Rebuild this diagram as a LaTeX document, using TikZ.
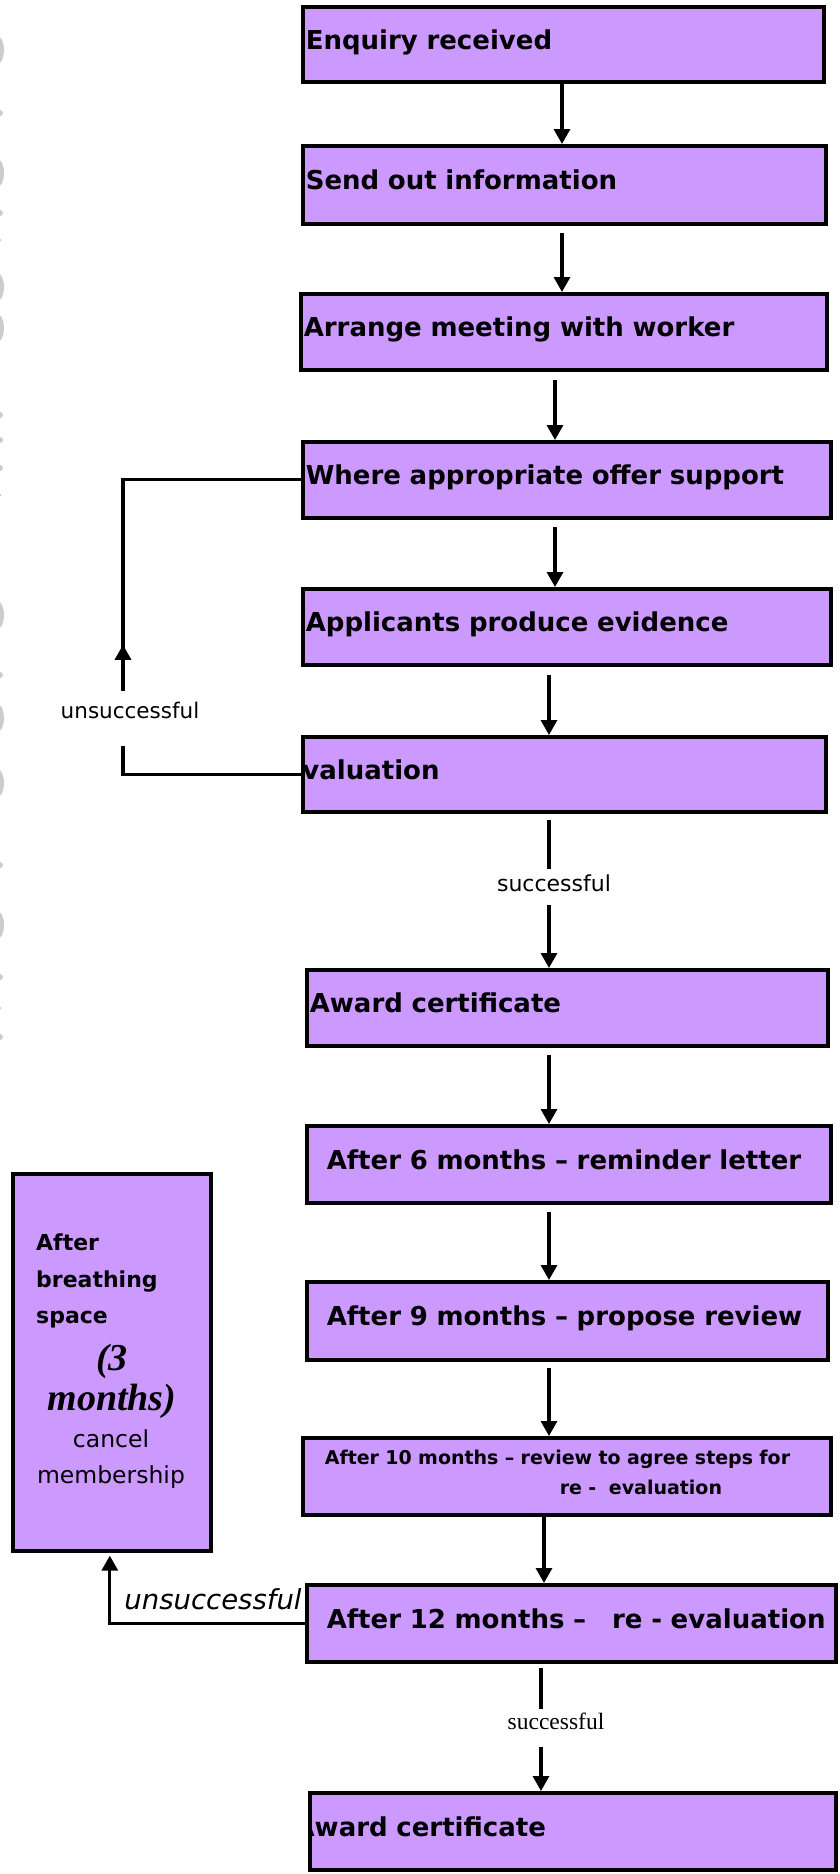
\documentclass[tikz,border=0pt]{standalone}
\usepackage{fontspec}
\setmainfont{DejaVu Sans}
\newfontfamily\timesfont{Liberation Serif}
\usetikzlibrary{arrows.meta,decorations.markings}
\definecolor{boxpurple}{RGB}{204,153,255}
\definecolor{markgray}{RGB}{204,204,204}
\newcommand{\boxfont}{\fontsize{26}{30}\selectfont\bfseries}
\newcommand{\smallboxfont}{\fontsize{19}{30}\selectfont\bfseries}
\newcommand{\sidefont}{\fontsize{22}{30}\selectfont\bfseries}
\tikzset{
  stepbox/.style={draw, line width=3.6pt, fill=boxpurple, anchor=north west,
    inner xsep=3pt, inner ysep=0pt, align=left, font=\boxfont,
    text height=20pt, text depth=10pt},
  midbox/.style={stepbox, inner xsep=20pt},
  lbl/.style={inner sep=0pt, anchor=base},
  flow/.style={line width=3.2pt},
  upmark/.style={postaction={decorate}, decoration={markings,
    mark=at position 46pt with {\arrow{Triangle[width=16pt,length=15pt]}}}},
}

\begin{document}
\begin{tikzpicture}[x=1pt, y=-1pt, >={Triangle[width=16pt,length=15pt]}]
		\useasboundingbox (0,0) rectangle (840,1874);
		% marks on the page edge
		\foreach \y in {50,173,287,328,615,718,783,925}
			\fill[markgray] (-4,\y) ellipse (8 and 15);
		\foreach \y in {113,213,415,440,468,675,865,977,1037}
			\fill[markgray] (0,\y) circle (3);
		\foreach \y in {240,495,1008}
			\fill[markgray] (0,\y) circle (1.5);
		% steps
		\node[stepbox, text width=515pt, minimum height=75pt] (b1) at (301,5) {Enquiry received};
		\node[stepbox, text width=517pt, minimum height=78pt] (b2) at (301,144) {Send out information};
		\node[stepbox, text width=520pt, minimum height=76pt] (b3) at (299,292) {Arrange meeting with worker};
		\node[stepbox, text width=522pt, minimum height=76pt] (b4) at (301,440) {Where appropriate offer support};
		\node[stepbox, text width=522pt, minimum height=76pt] (b5) at (301,587) {Applicants produce evidence};
		\node[stepbox, text width=517pt, minimum height=75pt,
			path picture={\node[anchor=base west, font=\boxfont, inner sep=0pt] (evaltext)
				at ([xshift=-20pt,yshift=-5pt]path picture bounding box.west) {Evaluation};}] (b6) at (301,735) {};
		\node[stepbox, text width=515pt, minimum height=76pt] (b7) at (305,968) {Award certificate};
		\node[midbox, text width=484pt, minimum height=77pt] (b8) at (305,1124) {After 6 months – reminder letter};
		\node[midbox, text width=481pt, minimum height=78pt] (b9) at (305,1280) {After 9 months – propose review};
		\node[midbox, inner xsep=22pt, text width=484pt, minimum height=77pt, font=\smallboxfont,
			text height=14pt, text depth=38pt] (b10) at (301,1436)
			{After 10 months – review to agree steps for\\\hspace*{235pt}re -\ \ evaluation};
		\node[midbox, text width=489pt, minimum height=77pt] (b11) at (305,1583) {\mbox{After 12 months –\ \ \ re - evaluation}};
		\node[stepbox, text width=520pt, minimum height=77pt,
			path picture={\node[anchor=base west, font=\boxfont, inner sep=0pt] (awardtext)
				at ([xshift=-17pt,yshift=-5pt]path picture bounding box.west) {Award certificate};}] (b12) at (308,1791) {};
		% side box
		\node[draw, line width=3.6pt, fill=boxpurple, anchor=north west,
			minimum width=198pt, minimum height=377pt] (lb) at (11,1172) {};
		\node[anchor=base west, font=\sidefont, inner sep=0pt] (lb1) at (36,1250) {After};
		\node[anchor=base west, font=\sidefont, inner sep=0pt] (lb2) at (36,1287) {breathing};
		\node[anchor=base west, font=\sidefont, inner sep=0pt] (lb3) at (36,1323) {space};
		\node[lbl, font=\timesfont\fontsize{38}{40}\selectfont\bfseries\itshape] (lb4) at (112,1370) {(3};
		\node[lbl, font=\timesfont\fontsize{38}{40}\selectfont\bfseries\itshape] (lb5) at (112,1410) {months)};
		\node[lbl, font=\fontsize{23.5}{30}\selectfont] (lb6) at (111,1447) {cancel};
		\node[lbl, font=\fontsize{23.5}{30}\selectfont] (lb7) at (111,1483) {membership};
		% branch labels
		\node[lbl, text height=27pt, text depth=28pt, font=\fontsize{21.5}{28}\selectfont] (uns1) at (130,718) {unsuccessful};
		\node[lbl, text height=22pt, text depth=14pt, font=\fontsize{22}{28}\selectfont] (suc1) at (554,891) {successful};
		\node[lbl, font=\fontsize{27.5}{34}\selectfont\itshape] (uns2) at (213,1609) {unsuccessful};
		\node[lbl, text height=20pt, text depth=18pt, font=\timesfont\fontsize{23.5}{28}\selectfont] (suc2) at (556,1729) {successful};
		% main flow
		\draw[flow, ->] ([xshift=-1.3pt]b1.south) -- ([xshift=-1.3pt]b1.south |- b2.north);
		\draw[flow, ->, shorten <=7pt] ([xshift=-2.3pt]b2.south) -- ([xshift=-2.3pt]b2.south |- b3.north);
		\draw[flow, ->, shorten <=8pt] ([xshift=-8.8pt]b3.south) -- ([xshift=-8.8pt]b3.south |- b4.north);
		\draw[flow, ->, shorten <=7pt] ([xshift=-11.8pt]b4.south) -- ([xshift=-11.8pt]b4.south |- b5.north);
		\draw[flow, ->, shorten <=8pt] ([xshift=-17.8pt]b5.south) -- ([xshift=-17.8pt]b5.south |- b6.north);
		\draw[flow, shorten <=6pt] ([xshift=-15.3pt]b6.south) -- ([xshift=-15.3pt]b6.south |- suc1.north);
		\draw[flow, ->] ([xshift=-15.3pt]b6.south |- suc1.south) -- ([xshift=-15.3pt]b6.south |- b7.north);
		\draw[flow, ->, shorten <=7pt] ([xshift=-18.3pt]b7.south) -- ([xshift=-18.3pt]b7.south |- b8.north);
		\draw[flow, ->, shorten <=7pt] ([xshift=-19.8pt]b8.south) -- ([xshift=-19.8pt]b8.south |- b9.north);
		\draw[flow, ->, shorten <=6pt] ([xshift=-18.3pt]b9.south) -- ([xshift=-18.3pt]b9.south |- b10.north);
		\draw[flow, ->] ([xshift=-22.8pt]b10.south) -- ([xshift=-22.8pt]b10.south |- b11.north);
		\draw[flow, shorten <=4pt] ([xshift=-30.3pt]b11.south) -- ([xshift=-30.3pt]b11.south |- suc2.north);
		\draw[flow, ->] ([xshift=-30.3pt]b11.south |- suc2.south) -- ([xshift=-30.3pt]b11.south |- b12.north);
		% loops back
		\draw[flow] (b6.west) -| ([xshift=-7pt]uns1.south);
		\draw[flow, upmark] ([xshift=-7pt]uns1.north) |- (b4.west);
		\draw[flow, ->, shorten >=3pt] (b11.west) -| ([xshift=-2pt]lb.south);
	\end{tikzpicture}
\end{document}
